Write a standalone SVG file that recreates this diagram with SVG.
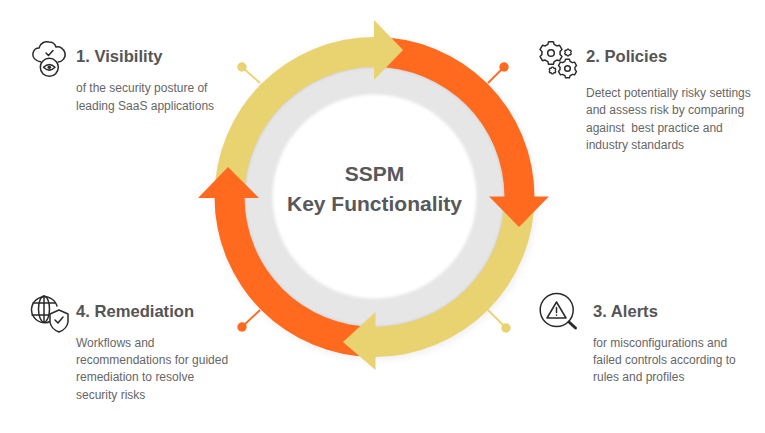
<svg xmlns="http://www.w3.org/2000/svg" width="765" height="433" viewBox="0 0 765 433">
<style>
text{font-family:"Liberation Sans",Arial,sans-serif}
.t{font-size:16.6px;font-weight:700;fill:#555}
.b{font-size:12px;fill:#666}
.c{font-size:21px;font-weight:700;fill:#58585a;text-anchor:middle}
.o{fill:#ff6a1f}.y{fill:#e9d270}
.ol{stroke:#ff6a1f;stroke-width:1.8}.yl{stroke:#e9d270;stroke-width:1.8}
.i{fill:none;stroke:#2a2a2a;stroke-width:1.5;stroke-linejoin:round;stroke-linecap:round}
</style>
<defs>
<filter id="s" x="-20%" y="-20%" width="140%" height="140%"><feGaussianBlur stdDeviation="3"/></filter>
<filter id="s2" x="-20%" y="-20%" width="140%" height="140%"><feGaussianBlur stdDeviation="1.5"/></filter>
<path id="gear" d="M-2.08-9.78L2.08-9.78L2.74-7.52L5.14-6.13L7.43-6.69L9.51-3.09L7.88-1.39L7.88 1.39L9.51 3.09L7.43 6.69L5.14 6.13L2.74 7.52L2.08 9.78L-2.08 9.78L-2.74 7.52L-5.14 6.13L-7.43 6.69L-9.51 3.09L-7.88 1.39L-7.88-1.39L-9.51-3.09L-7.43-6.69L-5.14-6.13L-2.74-7.52Z"/>
</defs>
<rect width="765" height="433" fill="#fff"/>
<g id="ring">
<circle cx="376" cy="199" r="161" fill="#e2e2e2" filter="url(#s)" opacity=".5"/>
<circle cx="374.500" cy="197" r="132" fill="#e6e6e6"/>
<circle cx="374.500" cy="197" r="131" fill="none" stroke="#c0c0c0" stroke-width="2" filter="url(#s2)"/>
<circle cx="374.500" cy="196.500" r="102" fill="#fff" filter="url(#s2)"/>
</g>
<g id="connectors">
<path class="yl" d="M242 67L260 83"/><circle class="y" cx="242" cy="67" r="4.700"/>
<path class="ol" d="M504 67L488 83"/><circle class="o" cx="504" cy="67" r="4.700"/>
<path class="yl" d="M506 328L488 310"/><circle class="y" cx="506" cy="328" r="4.700"/>
<path class="ol" d="M242 327L260 310"/><circle class="o" cx="242" cy="327" r="4.700"/>
</g>
<g id="arrows">
<path class="y" d="M214.500 197A160 160 0 0 1 374.500 37V67A130 130 0 0 0 244.500 197Z"/>
<path class="o" d="M374.500 37A160 160 0 0 1 534.500 197H504.500A130 130 0 0 0 374.500 67Z"/>
<path class="y" d="M534.500 197A160 160 0 0 1 374.500 357V327A130 130 0 0 0 504.500 197Z"/>
<path class="o" d="M374.500 357A160 160 0 0 1 214.500 197H244.500A130 130 0 0 0 374.500 327Z"/>
<path class="y" d="M374 20L403 50L374 80Z"/>
<path class="o" d="M489 196.500H549L519 227Z"/>
<path class="y" d="M375.500 312V370L343 342Z"/>
<path class="o" d="M198 198H259L228 167Z"/>
</g>
<g id="center"><text class="c" x="374.500" y="181">SSPM</text><text class="c" x="374.500" y="211">Key Functionality</text></g>
<g id="node1">
<path class="i" d="M41 62C35 61 32 57 33 53C34 49 37 48 39 48C40 43 45 41 49 42C52 42 55 44 56 47C60 46 64 49 65 53C66 58 62 62 58 62"/>
<path class="i" d="M46 53L48.500 55.500L53 50.500"/>
<circle class="i" cx="49.300" cy="67.300" r="9"/>
<path class="i" d="M43.500 67.300Q49.300 61.500 55 67.300Q49.300 73 43.500 67.300Z"/>
<circle cx="49.300" cy="67.300" r="1.800" fill="#2a2a2a"/>
<text class="t" x="76" y="62">1. Visibility</text>
<text class="b" x="76" y="92">of the security posture of</text>
<text class="b" x="76" y="110">leading SaaS applications</text>
</g>
<g id="node2">
<use href="#gear" class="i" transform="translate(551 53) scale(1.150)" style="stroke-width:1.300"/>
<circle class="i" cx="551" cy="53" r="3.300"/>
<use href="#gear" class="i" transform="translate(567.500 68.500) scale(.950)"/>
<circle class="i" cx="567.500" cy="68.500" r="2.800"/>
<use href="#gear" class="i" transform="translate(568 52.500) scale(.350)" style="stroke-width:3.500"/>
<use href="#gear" class="i" transform="translate(552.500 70.500) scale(.350)" style="stroke-width:3.500"/>
<text class="t" x="586" y="62">2. Policies</text>
<text class="b" x="586" y="97">Detect potentially risky settings</text>
<text class="b" x="586" y="114">and assess risk by comparing</text>
<text class="b" x="586" y="132" xml:space="preserve">against  best practice and</text>
<text class="b" x="586" y="149">industry standards</text>
</g>
<g id="node3">
<circle class="i" cx="556.700" cy="310" r="16.500"/>
<path class="i" d="M556.500 302L566 318H547Z"/>
<path class="i" d="M556.500 307.500V312.500M556.500 315V315.300"/>
<path class="i" d="M569 322L575.500 328" style="stroke-width:3"/>
<text class="t" x="593" y="317">3. Alerts</text>
<text class="b" x="593" y="347">for misconfigurations and</text>
<text class="b" x="593" y="364">failed controls according to</text>
<text class="b" x="593" y="381">rules and profiles</text>
</g>
<g id="node4">
<path class="i" d="M51 321A13 13 0 1 1 57 306"/>
<ellipse class="i" cx="44" cy="309" rx="5.500" ry="13"/>
<path class="i" d="M44 296V322M33 303H55M32 315H49"/>
<path class="i" d="M59 310L68 314V322Q67 329 59 332Q51 329 50 322V314Z" style="fill:#fff"/>
<path class="i" d="M55 320L58 323L63 317"/>
<text class="t" x="76" y="317">4. Remediation</text>
<text class="b" x="76" y="347">Workflows and</text>
<text class="b" x="76" y="364">recommendations for guided</text>
<text class="b" x="76" y="381">remediation to resolve</text>
<text class="b" x="76" y="399">security risks</text>
</g>
</svg>
